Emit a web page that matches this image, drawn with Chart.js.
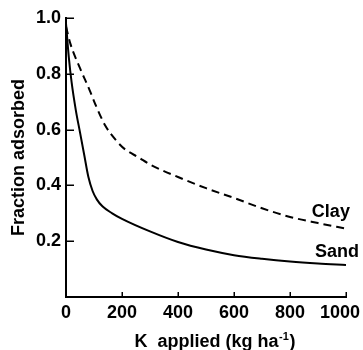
<!DOCTYPE html>
<html>
<head>
<meta charset="utf-8">
<script src="https://cdn.jsdelivr.net/npm/chart.js@4.4.0/dist/chart.umd.min.js"></script>
<style>
  html, body { margin: 0; padding: 0; background: #fff; }
  #wrap { width: 363px; height: 350px; }
</style>
</head>
<body>
<div id="wrap"><canvas id="adsorbChart"></canvas></div>
<script>
// K applied (kg/ha) and fraction adsorbed
const sandK = [0, 10, 20, 35, 50, 65, 80, 95, 110, 130, 165, 200, 300, 400, 500, 600, 700, 800, 900, 1000];
const sandFrac = [0.98, 0.86, 0.77, 0.67, 0.59, 0.51, 0.43, 0.38, 0.35, 0.325, 0.3, 0.28, 0.235, 0.197, 0.17, 0.15, 0.137, 0.127, 0.12, 0.115];

const clayK = [0, 15, 50, 85, 105, 140, 180, 210, 260, 300, 400, 500, 600, 700, 800, 900, 1000];
const clayFrac = [0.97, 0.91, 0.82, 0.74, 0.69, 0.615, 0.56, 0.53, 0.5, 0.475, 0.43, 0.39, 0.355, 0.318, 0.287, 0.265, 0.245];

const xTicks = [0, 200, 400, 600, 800, 1000];
const yTicks = [0.2, 0.4, 0.6, 0.8, 1.0];

const toPoints = (xs, ys) => xs.map((x, i) => ({ x: x, y: ys[i] }));

const FONT = 'Liberation Sans, Arial, sans-serif';

// inward tick marks, x tick labels and the x title (with superscript)
const axisExtras = {
    id: 'axisExtras',
    afterDraw(chart) {
        const { ctx, scales } = chart;
        const sx = scales.x, sy = scales.y;
        const left = sx.left, bottom = sy.bottom;
        ctx.save();
        ctx.strokeStyle = '#000';
        ctx.lineWidth = 1.5;
        ctx.beginPath();
        yTicks.forEach(v => {
            const py = Math.round(sy.getPixelForValue(v)) + 0.25;
            ctx.moveTo(left, py);
            ctx.lineTo(left + 8, py);
        });
        xTicks.slice(1).forEach(v => {
            const px = Math.round(sx.getPixelForValue(v)) + 0.25;
            ctx.moveTo(px, bottom);
            ctx.lineTo(px, bottom - 5);
        });
        ctx.stroke();

        ctx.fillStyle = '#000';
        ctx.font = 'bold 18px ' + FONT;
        ctx.textBaseline = 'middle';
        xTicks.forEach((v, i) => {
            const px = sx.getPixelForValue(v);
            if (i === xTicks.length - 1) {
                ctx.textAlign = 'right';
                ctx.fillText(String(v), px + 14, bottom + 16);
            } else {
                ctx.textAlign = 'center';
                ctx.fillText(String(v), px, bottom + 16);
            }
        });

        // x axis title: "K  applied (kg ha" + superscript "-1" + ")"
        const main = 'K  applied (kg ha', sup = '-1', tail = ')';
        const supFont = 'bold 11px ' + FONT;
        const wMain = ctx.measureText(main).width;
        const wTail = ctx.measureText(tail).width;
        ctx.font = supFont;
        const wSup = ctx.measureText(sup).width + 1;
        const total = wMain + wSup + wTail;
        let tx = (sx.left + sx.right) / 2 + 9 - total / 2;
        const ty = bottom + 45;
        ctx.textAlign = 'left';
        ctx.font = 'bold 18px ' + FONT;
        ctx.fillText(main, tx, ty);
        tx += wMain;
        ctx.font = supFont;
        ctx.fillText(sup, tx + 0.5, ty - 5);
        tx += wSup;
        ctx.font = 'bold 18px ' + FONT;
        ctx.fillText(tail, tx, ty);
        ctx.restore();
    }
};

// curve names written next to the line ends
const curveLabels = {
    id: 'curveLabels',
    afterDatasetsDraw(chart) {
        const { ctx, scales } = chart;
        ctx.save();
        ctx.fillStyle = '#000';
        ctx.font = 'bold 18px ' + FONT;
        ctx.textAlign = 'center';
        ctx.textBaseline = 'middle';
        ctx.fillText('Clay', scales.x.getPixelForValue(946), scales.y.getPixelForValue(0.305));
        ctx.fillText('Sand', scales.x.getPixelForValue(968), scales.y.getPixelForValue(0.161));
        ctx.restore();
    }
};

new Chart(document.getElementById('adsorbChart'), {
    type: 'line',
    data: {
        datasets: [{
            label: 'Sand',
            data: toPoints(sandK, sandFrac),
            borderColor: '#000',
            borderWidth: 2,
            pointRadius: 0,
            cubicInterpolationMode: 'monotone',
            fill: false
        }, {
            label: 'Clay',
            data: toPoints(clayK, clayFrac),
            borderColor: '#000',
            borderWidth: 2,
            borderDash: [8, 5],
            pointRadius: 0,
            cubicInterpolationMode: 'monotone',
            fill: false
        }]
    },
    options: {
        responsive: true,
        maintainAspectRatio: false,
        animation: false,
        layout: { padding: { top: 18, right: 17, left: 0, bottom: 0 } },
        plugins: {
            legend: { display: false },
            tooltip: { enabled: false }
        },
        scales: {
            x: {
                type: 'linear',
                min: 0,
                max: 1000,
                afterFit: (scale) => { scale.height = 53; scale.paddingRight = 0; scale.paddingLeft = 0; },
                afterBuildTicks: (scale) => { scale.ticks = xTicks.map(v => ({ value: v })); },
                border: { color: '#000', width: 2 },
                grid: { display: false },
                ticks: { display: false }
            },
            y: {
                min: 0,
                max: 1.0,
                afterFit: (scale) => { scale.width = 66; scale.paddingTop = 0; scale.paddingBottom = 0; },
                afterBuildTicks: (scale) => { scale.ticks = yTicks.map(v => ({ value: v })); },
                border: { color: '#000', width: 2 },
                grid: { drawOnChartArea: false, drawTicks: false },
                ticks: {
                    color: '#000',
                    padding: 5,
                    callback: (v) => v.toFixed(1),
                    font: { family: FONT, size: 18, weight: 'bold' }
                },
                title: {
                    display: true,
                    text: 'Fraction adsorbed',
                    color: '#000',
                    padding: { top: 8, bottom: 0 },
                    font: { family: FONT, size: 18, weight: 'bold' }
                }
            }
        }
    },
    plugins: [axisExtras, curveLabels]
});
</script>
</body>
</html>
